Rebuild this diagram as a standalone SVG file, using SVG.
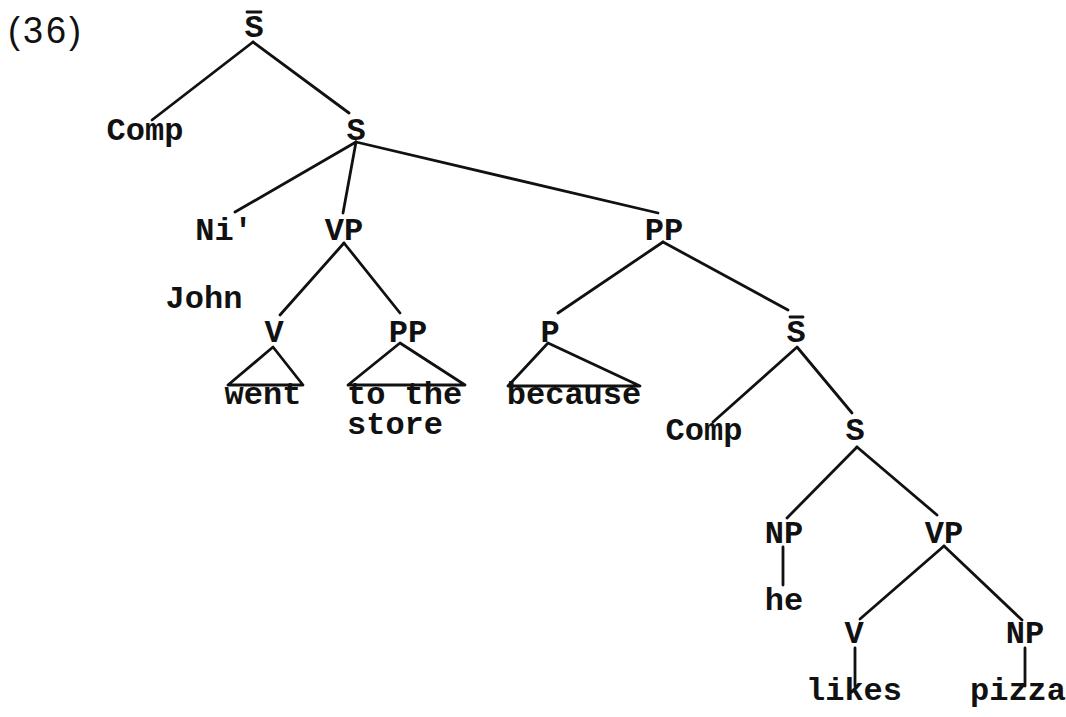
<svg xmlns="http://www.w3.org/2000/svg" width="1066" height="717" viewBox="0 0 1066 717">
<style>
text{font-family:"Liberation Mono","Courier New",monospace;font-size:32px;font-weight:bold;fill:#111;text-anchor:middle}
.e{stroke:#111;stroke-width:2.8;fill:none;stroke-linecap:round;stroke-linejoin:round}
</style>
<rect width="1066" height="717" fill="#fff"/>
<text x="8" y="43" style="font-family:'Liberation Sans',Arial,sans-serif;font-weight:normal;font-size:36px;letter-spacing:3px;text-anchor:start">(36)</text>
<g id="connectors" class="e">
<line x1="253" y1="42" x2="152" y2="120"/>
<line x1="253" y1="42" x2="349" y2="113"/>
<line x1="356" y1="142" x2="235" y2="212"/>
<line x1="356" y1="142" x2="343" y2="213"/>
<line x1="356" y1="142" x2="658" y2="213"/>
<line x1="344" y1="243" x2="280" y2="315"/>
<line x1="344" y1="243" x2="400" y2="313"/>
<path d="M273 347 L228 385 L303 385 Z"/>
<path d="M400 343 L348 385 L465 385 Z"/>
<line x1="663" y1="242" x2="558" y2="313"/>
<line x1="663" y1="242" x2="788" y2="310"/>
<path d="M548 343 L508 386 L640 386 Z"/>
<line x1="796" y1="348" x2="713" y2="422"/>
<line x1="797" y1="347" x2="852" y2="413"/>
<line x1="857" y1="447" x2="787" y2="518"/>
<line x1="857" y1="447" x2="937" y2="515"/>
<line x1="783" y1="547" x2="783" y2="585"/>
<line x1="944" y1="546" x2="860" y2="619"/>
<line x1="944" y1="546" x2="1022" y2="620"/>
<line x1="855" y1="648" x2="855" y2="686"/>
<line x1="1025" y1="648" x2="1025" y2="686"/>
</g>
<g id="sbar1"><text x="254" y="37">S</text><line class="e" x1="247" y1="12" x2="261" y2="12"/></g>
<g id="comp1"><text x="145" y="140">Comp</text></g>
<g id="s1"><text x="356" y="140">S</text></g>
<g id="np1"><text x="224" y="240">Ni'</text></g>
<g id="vp1"><text x="344" y="240">VP</text></g>
<g id="john"><text x="204" y="308">John</text></g>
<g id="pp1"><text x="664" y="240">PP</text></g>
<g id="v1"><text x="274" y="342">V</text></g>
<g id="pp2"><text x="408" y="342">PP</text></g>
<g id="went"><text x="263" y="404">went</text></g>
<g id="tothestore"><text style="text-anchor:start"><tspan x="347" y="404">to the</tspan><tspan x="347" y="434">store</tspan></text></g>
<g id="p1"><text x="550" y="342">P</text></g>
<g id="because"><text x="574" y="404">because</text></g>
<g id="sbar2"><text x="796" y="342">S</text><line class="e" x1="790" y1="317" x2="803" y2="317"/></g>
<g id="comp2"><text x="704" y="440">Comp</text></g>
<g id="s2"><text x="855" y="440">S</text></g>
<g id="np2"><text x="784" y="543">NP</text></g>
<g id="he"><text x="784" y="610">he</text></g>
<g id="vp2"><text x="944" y="543">VP</text></g>
<g id="v2"><text x="854" y="643">V</text></g>
<g id="np3"><text x="1025" y="643">NP</text></g>
<g id="likes"><text x="854" y="700">likes</text></g>
<g id="pizza"><text x="1018" y="700">pizza</text></g>
</svg>
